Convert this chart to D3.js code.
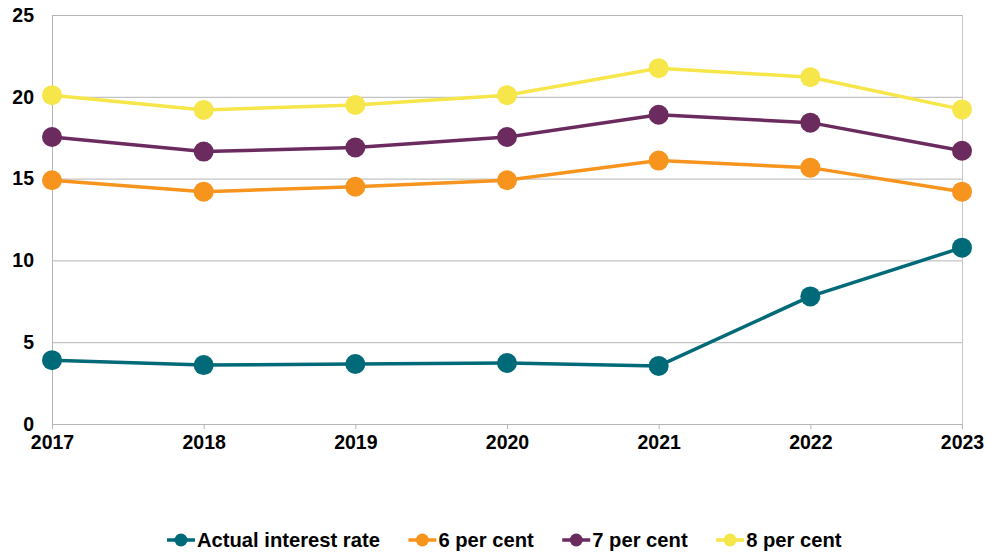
<!DOCTYPE html>
<html>
<head>
<meta charset="utf-8">
<script src="https://cdn.jsdelivr.net/npm/d3@7"></script>
<style>
  html, body { margin: 0; padding: 0; background: #fff; }
  svg { display: block; font-family: "Liberation Sans", Arial, sans-serif; }
</style>
</head>
<body>
<svg id="chart" width="987" height="554"></svg>
<script>
const years = ["2017", "2018", "2019", "2020", "2021", "2022", "2023"];
const yTicks = [0, 5, 10, 15, 20, 25];

const seriesNames = ["Actual interest rate", "6 per cent", "7 per cent", "8 per cent"];
const actualRate = [3.9, 3.6, 3.67, 3.73, 3.55, 7.8, 10.78];
const sixPerCent = [14.9, 14.2, 14.5, 14.9, 16.1, 15.67, 14.2];
const sevenPerCent = [17.54, 16.65, 16.9, 17.54, 18.9, 18.42, 16.7];
const eightPerCent = [20.1, 19.2, 19.5, 20.1, 21.75, 21.2, 19.23];
const seriesColors = ["#006a78", "#f7941d", "#6b2b5f", "#f6e64a"];

const seriesData = [actualRate, sixPerCent, sevenPerCent, eightPerCent];

const svg = d3.select("#chart");
const margin = { left: 52, right: 25, top: 15, bottom: 130 };
const W = 987, H = 554;
const plotW = W - margin.left - margin.right;
const plotH = H - margin.top - margin.bottom;
const labelFont = "19.5px";

const x = d3.scalePoint().domain(years).range([0, plotW]);
const y = d3.scaleLinear().domain([0, 25]).range([plotH, 0]);

const g = svg.append("g").attr("transform", `translate(${margin.left},${margin.top})`);

// horizontal gridlines
g.append("g")
  .selectAll("line")
  .data(yTicks.filter(d => d > 0))
  .join("line")
  .attr("x1", 0).attr("x2", plotW)
  .attr("y1", d => y(d) + 0.5).attr("y2", d => y(d) + 0.5)
  .attr("stroke", "#b5b5b5").attr("stroke-width", 1);

// right border of plot area
g.append("line")
  .attr("x1", plotW + 0.5).attr("x2", plotW + 0.5)
  .attr("y1", 0).attr("y2", plotH)
  .attr("stroke", "#c8c8c8");

// y axis
const yAxis = g.append("g")
  .call(d3.axisLeft(y).tickValues(yTicks).tickSize(0).tickPadding(18));
yAxis.select(".domain").attr("stroke", "#b5b5b5");
yAxis.selectAll("text")
  .attr("font-size", labelFont).attr("font-weight", "bold").attr("fill", "#000")
  .attr("font-family", "'Liberation Sans', Arial, sans-serif");

// x axis
const xAxis = g.append("g")
  .attr("transform", `translate(0,${plotH})`)
  .call(d3.axisBottom(x).tickSize(5).tickPadding(6));
xAxis.select(".domain").attr("stroke", "#b5b5b5");
xAxis.selectAll(".tick line").attr("stroke", "#b5b5b5");
xAxis.selectAll("text")
  .attr("font-size", labelFont).attr("font-weight", "bold").attr("fill", "#000")
  .attr("font-family", "'Liberation Sans', Arial, sans-serif");

// series lines and markers
const line = d3.line().x((d, i) => x(years[i])).y(d => y(d));
seriesData.forEach((vals, si) => {
  g.append("path")
    .datum(vals)
    .attr("d", line)
    .attr("fill", "none")
    .attr("stroke", seriesColors[si])
    .attr("stroke-width", 3.5)
    .attr("stroke-linejoin", "round");
  g.append("g")
    .selectAll("circle")
    .data(vals)
    .join("circle")
    .attr("cx", (d, i) => x(years[i]))
    .attr("cy", d => y(d))
    .attr("r", 10)
    .attr("fill", seriesColors[si]);
});

// legend
const legend = svg.append("g").attr("transform", "translate(0,540)");
const items = legend.selectAll("g.item")
  .data(seriesNames)
  .join("g").attr("class", "item");
items.append("line")
  .attr("x1", 0).attr("x2", 28).attr("y1", 0).attr("y2", 0)
  .attr("stroke", (d, i) => seriesColors[i]).attr("stroke-width", 3.5);
items.append("circle")
  .attr("cx", 14).attr("cy", 0).attr("r", 6.5)
  .attr("fill", (d, i) => seriesColors[i]);
items.append("text")
  .attr("x", 30).attr("y", 7)
  .attr("font-size", "20.2px").attr("font-weight", "bold").attr("fill", "#000")
  .text(d => d);

const widths = [];
items.each(function () {
  widths.push(30 + this.querySelector("text").getComputedTextLength());
});
const gap = 28.5;
let cx = 167;
items.attr("transform", (d, i) => {
  const t = `translate(${cx},0)`;
  cx += widths[i] + gap;
  return t;
});
</script>
</body>
</html>
